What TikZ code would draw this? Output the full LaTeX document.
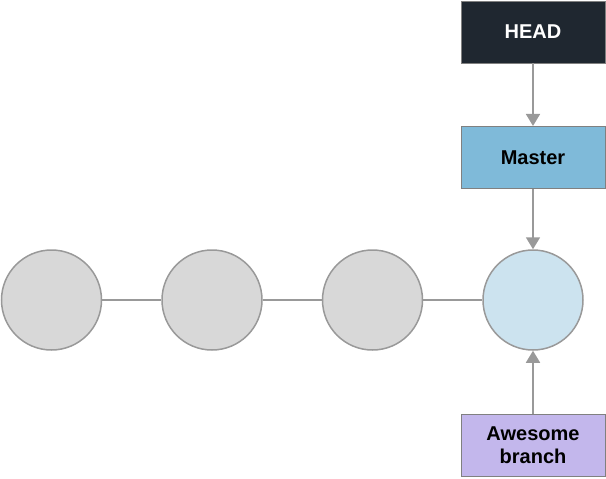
\documentclass[tikz,border=0pt]{standalone}
\usepackage{fontspec}
\setmainfont{Liberation Sans}
\usetikzlibrary{positioning, arrows.meta}

\definecolor{linegray}{HTML}{999999}
\definecolor{commitgray}{HTML}{D8D8D8}
\definecolor{commitblue}{HTML}{CCE3EF}
\definecolor{headdark}{HTML}{1F2730}
\definecolor{masterblue}{HTML}{7FBAD9}
\definecolor{branchpurple}{HTML}{C3B7EC}

\tikzset{
  commit/.style={draw=linegray, line width=1.5pt, circle, fill=commitgray, minimum size=100pt, inner sep=0pt},
  refbox/.style={draw=gray, line width=0.8pt, rectangle, minimum width=144pt, minimum height=62pt, align=center,
    font=\fontsize{20}{23}\selectfont\bfseries},
  pointer/.style={draw=linegray, line width=1.8pt, -{Triangle[width=14pt, length=12pt]}},
  link/.style={draw=linegray, line width=1.8pt}
}

\begin{document}
\begin{tikzpicture}[node distance=59pt]
\useasboundingbox (0,0) rectangle (606pt,-479pt);
\node[commit] (c1) at (51.5pt,-300pt) {};
\node[commit, right=of c1] (c2) {};
\node[commit, right=of c2] (c3) {};
\node[commit, right=of c3, fill=commitblue] (c4) {};
\node[refbox, fill=masterblue, above=60.5pt of c4] (master) {Master};
\node[refbox, fill=headdark, text=white, above=62.5pt of master] (head) {HEAD};
\node[refbox, fill=branchpurple, below=63.5pt of c4] (awesome) {Awesome\\branch};

\draw[link] (c1) -- (c2);
\draw[link] (c2) -- (c3);
\draw[link] (c3) -- (c4);
\draw[pointer] (head) -- (master);
\draw[pointer] (master) -- (c4);
\draw[pointer] (awesome) -- (c4);
\end{tikzpicture}
\end{document}
